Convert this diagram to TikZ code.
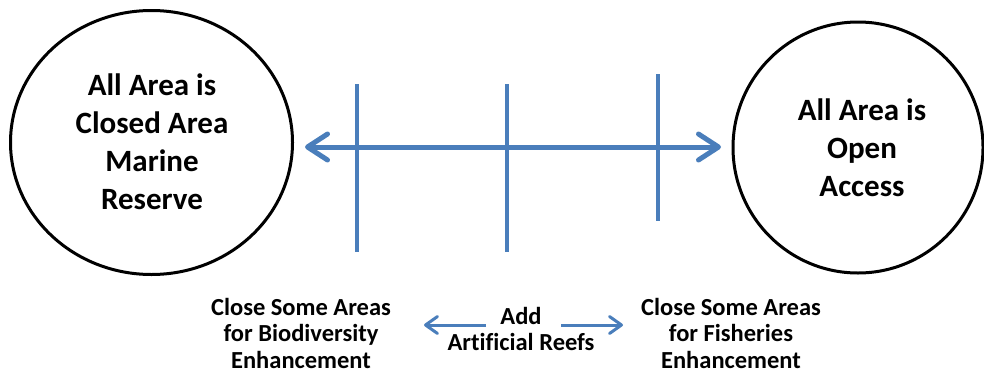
\documentclass[tikz,border=0pt]{standalone}
\usepackage{fontspec}
\setmainfont{Carlito}[Ligatures=NoCommon]
\usetikzlibrary{arrows.meta}
\definecolor{arrowblue}{RGB}{74,126,187}
\tikzset{
  bigtext/.style={font=\bfseries\fontsize{31}{38}\selectfont, align=center, inner sep=0pt},
  smalltext/.style={font=\bfseries\fontsize{24.5}{26.5}\selectfont, align=center, inner sep=0pt},
  ring/.style={draw=black, line width=3pt},
  tick/.style={draw=arrowblue, line width=4pt},
  mainarrow/.style={draw=arrowblue, line width=5pt, line cap=round,
    {Straight Barb[length=20pt,width=26pt,line cap=round,line join=round]}-{Straight Barb[length=20pt,width=26pt,line cap=round,line join=round]}},
  minorarrow/.style={draw=arrowblue, line width=3pt,
    -{Straight Barb[length=12pt,width=17pt,line cap=round,line join=round]}}
}
\begin{document}
\begin{tikzpicture}[x=1pt,y=-1pt]
\useasboundingbox (0,0) rectangle (984,375);
\clip (0,0) rectangle (984,375);
% circles
\draw[ring] (151.5,142.5) ellipse [x radius=141, y radius=132];
\draw[ring] (858,147.5) ellipse [x radius=125, y radius=125.5];
\node[bigtext] (closed) at (152,142) {All Area is\\Closed Area\\Marine\\Reserve};
\node[bigtext] (open) at (862,147.5) {All Area is\\Open\\Access};
% ticks
\coordinate (t1a) at (357,84);  \coordinate (t1b) at (357,252);
\coordinate (t2a) at (507,84);  \coordinate (t2b) at (507,252);
\coordinate (t3a) at (658,74);  \coordinate (t3b) at (658,221);
\draw[tick] (t1a) -- (t1b);
\draw[tick] (t2a) -- (t2b);
\draw[tick] (t3a) -- (t3b);
% main arrow
\coordinate (mL) at (305,147);
\coordinate (mR) at (721,147);
\draw[mainarrow] (mL) -- (mR);
% bottom labels
\node[smalltext] (bio) at (301,333) {Close Some Areas\\for Biodiversity\\Enhancement};
\node[smalltext] (reef) at (521,329) {Add\\Artificial Reefs};
\node[smalltext] (fish) at (731,333) {Close Some Areas\\for Fisheries\\Enhancement};
\coordinate (aLs) at (486,325); \coordinate (aLe) at (424,325);
\coordinate (aRs) at (561,325); \coordinate (aRe) at (623,325);
\draw[minorarrow] (aLs) -- (aLe);
\draw[minorarrow] (aRs) -- (aRe);
\end{tikzpicture}
\end{document}
